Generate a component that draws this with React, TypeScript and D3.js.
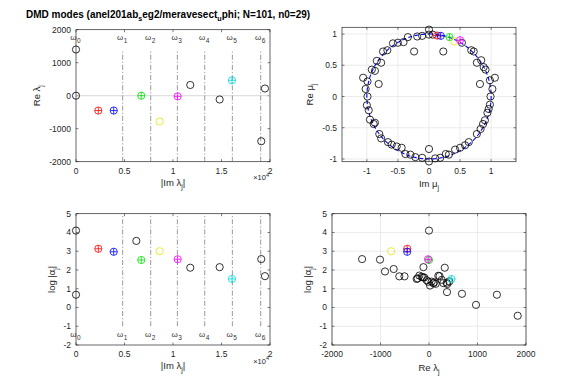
import React, { useEffect, useRef } from "react";
import * as d3 from "d3";

const W = 581;
const H = 388;
const FONT = "'Liberation Sans', Arial, Helvetica, sans-serif";
const AX = "#262626";

// title pieces: [text, shift] (1 = subscript)
const titleParts: [string, number][] = [
  ["DMD modes (anel201ab", 0], ["s", 1], ["eg2/meravesect", 0], ["u", 1], ["phi; N=101, n0=29)", 0],
];

// low-frequency modes: |Im lambda| (x1e4), Re lambda, log|alpha|
const modeImLam = [0, 0, 0.23, 0.389, 0.622, 0.673, 0.862, 1.048, 1.178, 1.481, 1.608, 1.91, 1.948];
const modeReLam = [1400, 0, -450, -450, -2600, 0, -780, -20, 325, -115, 465, -1380, 218];
const modeLogAlpha = [0.68, 4.1, 3.13, 2.97, 3.55, 2.53, 3.0, 2.57, 2.12, 2.15, 1.52, 2.58, 1.67];
const modeColor = ["#000", "#000", "#ff0000", "#0000ff", "#000", "#00e000", "#e6e600", "#ff00ff", "#000", "#000", "#00d8d8", "#000", "#000"];
const modeCross = [false, false, true, true, false, true, false, true, false, false, true, false, false];

// reference frequencies omega_k (x1e4)
const omegaFreq = [0, 0.481, 0.77, 1.045, 1.327, 1.612, 1.904];

// remaining modes (only in the Re lambda / log|alpha| panel)
const otherReLam = [-1010, -907, -728, -612, -505, -254, -233, -200, -151, -124, -97, -47, -14, 21, 55, 89, 103, 138, 192, 262, 295, 365, 377, 371, 419, 680, 969, 1829];
const otherLogAlpha = [2.55, 1.92, 2.05, 1.66, 1.66, 1.52, 1.55, 1.7, 1.64, 1.6, 1.6, 1.45, 1.37, 1.17, 1.38, 1.29, 1.33, 1.26, 1.69, 1.47, 1.3, 1.32, 1.25, 0.82, 1.39, 0.73, 0.14, -0.44];

// eigenvalues mu: Im, Re
const muIm = [
  0, 0, -0.11, -0.19, -0.34, -0.41, -0.5, -0.58, -0.24, -0.67, -0.74, -0.84, -0.77, -0.92, -0.87, -1.06, -0.99, -0.81, -1.02, -0.99,
  0.06, 0.23, 0.53, 0.68, 0.72, 0.84, 0.77, 0.88, 0.91, 1.06, 0.98, 0.82, 1.02, 0.99,
  -1.0, -0.97, -0.95, -0.89, -0.87, -0.8, -0.77, -0.66, -0.6, -0.52, -0.44, -0.38, -0.3, -0.22, -0.11, 0, 0,
  0.1, 0.18, 0.27, 0.32, 0.42, 0.5, 0.58, 0.64, 0.77, 0.83, 0.87, 0.9, 0.94, 0.96, 0.98,
];
const muRe = [
  1.07, 0.99, 0.97, 0.96, 0.95, 0.87, 0.86, 0.85, 0.72, 0.74, 0.72, 0.57, 0.54, 0.43, 0.41, 0.3, 0.24, 0.2, 0.12, 0.0,
  0.99, 0.72, 0.86, 0.74, 0.72, 0.58, 0.54, 0.47, 0.43, 0.3, 0.26, 0.2, 0.12, 0.0,
  -0.14, -0.22, -0.37, -0.44, -0.42, -0.6, -0.67, -0.73, -0.77, -0.8, -0.82, -0.92, -0.93, -0.97, -0.98, -1.04, -0.84,
  -0.99, -0.98, -0.92, -0.93, -0.85, -0.82, -0.78, -0.73, -0.6, -0.52, -0.44, -0.38, -0.26, -0.2, -0.13,
];
const muColIm = [0.13, 0.19, 0.33, 0.41, 0.5];
const muColRe = [0.975, 0.97, 0.95, 0.88, 0.9];
const muColor = ["#ff0000", "#0000ff", "#00e000", "#e6e600", "#ff00ff"];
const muCross = [true, true, true, false, true];

const freqTicks = [0, 0.5, 1, 1.5, 2];
const reLamTicks = [-2000, -1000, 0, 1000, 2000];
const logTicks = [-2, -1, 0, 1, 2, 3, 4, 5];
const muTicks = [-1, -0.5, 0, 0.5, 1];

function rich(t: any, parts: [string, number][], fs: number) {
  let prev = 0;
  parts.forEach(([s, sh]) => {
    t.append("tspan")
      .attr("font-size", sh ? fs * 0.72 : fs)
      .attr("dy", (sh - prev) * fs * 0.32)
      .text(s);
    prev = sh;
  });
  return t;
}

function frame(g: any, x: any, y: any, xt: number[], yt: number[], grid: boolean) {
  const [l, r] = x.range();
  const [b, t] = y.range();
  if (grid) {
    xt.forEach((v) => g.append("line").attr("x1", x(v)).attr("x2", x(v)).attr("y1", b).attr("y2", t).attr("stroke", "#e3e3e3").attr("stroke-width", 0.7));
    yt.forEach((v) => g.append("line").attr("x1", l).attr("x2", r).attr("y1", y(v)).attr("y2", y(v)).attr("stroke", "#e3e3e3").attr("stroke-width", 0.7));
  }
  g.append("rect").attr("x", l).attr("y", t).attr("width", r - l).attr("height", b - t)
    .attr("fill", "none").attr("stroke", AX).attr("stroke-width", 0.7);
  const tl = 2.5;
  xt.forEach((v) => {
    g.append("path").attr("d", `M${x(v)},${b}v${-tl}M${x(v)},${t}v${tl}`).attr("stroke", AX).attr("stroke-width", 0.6);
    g.append("text").attr("x", x(v)).attr("y", b + 12).attr("text-anchor", "middle")
      .attr("font-size", 8.5).attr("fill", AX).text(String(v));
  });
  yt.forEach((v) => {
    g.append("path").attr("d", `M${l},${y(v)}h${tl}M${r},${y(v)}h${-tl}`).attr("stroke", AX).attr("stroke-width", 0.6);
    g.append("text").attr("x", l - 5).attr("y", y(v) + 3).attr("text-anchor", "end")
      .attr("font-size", 8.5).attr("fill", AX).text(String(v));
  });
}

function marker(g: any, cx: number, cy: number, color: string, cross: boolean) {
  g.append("circle").attr("cx", cx).attr("cy", cy).attr("r", 3.6)
    .attr("fill", "none").attr("stroke", color).attr("stroke-width", 0.8);
  if (cross) {
    g.append("path").attr("d", `M${cx - 3.6},${cy}H${cx + 3.6}M${cx},${cy - 3.6}V${cy + 3.6}`)
      .attr("stroke", color).attr("stroke-width", 0.8);
  }
}

function xLabel(g: any, x: number, y: number, parts: [string, number][]) {
  rich(g.append("text").attr("x", x).attr("y", y).attr("text-anchor", "middle").attr("fill", AX), parts, 9.5);
}
function yLabel(g: any, x: number, y: number, parts: [string, number][]) {
  rich(g.append("text").attr("transform", `translate(${x},${y}) rotate(-90)`).attr("text-anchor", "middle").attr("fill", AX), parts, 9.5);
}
function x10(g: any, x: number, y: number) {
  const t = g.append("text").attr("x", x).attr("y", y).attr("text-anchor", "end").attr("fill", AX);
  t.append("tspan").attr("font-size", 7.5).text("\u00d710");
  t.append("tspan").attr("font-size", 5.5).attr("dy", -3.5).text("4");
}

function omegaLines(g: any, x: any, y: any, lo: number, hi: number, labelY: number) {
  omegaFreq.forEach((w, k) => {
    if (k > 0) {
      g.append("line").attr("x1", x(w)).attr("x2", x(w)).attr("y1", y(lo)).attr("y2", y(hi))
        .attr("stroke", "#555").attr("stroke-width", 0.6).attr("stroke-dasharray", "5,2,1.2,2");
    }
    g.append("text").attr("x", x(w) + 0.5).attr("y", y(labelY)).attr("text-anchor", "end")
      .attr("font-size", 8).attr("fill", "#333").text("\u03c9");
    g.append("text").attr("x", x(w) + 1).attr("y", y(labelY) + 3.5)
      .attr("font-size", 6.5).attr("fill", "#333").text(String(k));
  });
}

export default function App() {
  const ref = useRef<SVGSVGElement>(null);

  useEffect(() => {
    const svg = d3.select(ref.current);
    svg.selectAll("*").remove();
    svg.attr("font-family", FONT);

    rich(svg.append("text").attr("x", 26).attr("y", 17.5).attr("font-weight", "bold").attr("fill", "#000"), titleParts, 10);

    // top-left: |Im lambda| vs Re lambda
    const tl = svg.append("g");
    const x1 = d3.scaleLinear().domain([0, 2]).range([76, 270]);
    const y1 = d3.scaleLinear().domain([-2000, 2000]).range([161.7, 29.7]);
    frame(tl, x1, y1, freqTicks, reLamTicks, false);
    tl.append("line").attr("x1", x1(0)).attr("x2", x1(2)).attr("y1", y1(0)).attr("y2", y1(0))
      .attr("stroke", "#c8c8c8").attr("stroke-width", 0.7);
    omegaLines(tl, x1, y1, -2000, 1400, 1700);
    modeImLam.forEach((v, i) => {
      if (modeReLam[i] < -2000 || modeReLam[i] > 2000) return;
      marker(tl, x1(v), y1(modeReLam[i]), modeColor[i], modeCross[i]);
    });
    xLabel(tl, 173, 185.5, [["|Im \u03bb", 0], ["j", 1], ["|", 0]]);
    yLabel(tl, 39.5, 95.7, [["Re \u03bb", 0], ["j", 1]]);
    x10(tl, 269, 180);

    // top-right: mu in the complex plane
    const tr = svg.append("g");
    const x2 = d3.scaleLinear().domain([-1.4, 1.4]).range([342, 516]);
    const y2 = d3.scaleLinear().domain([-1.043, 1.107]).range([161.7, 27.3]);
    frame(tr, x2, y2, muTicks, muTicks, true);
    const circ = d3.line<number>().x((a) => x2(Math.sin(a))).y((a) => y2(Math.cos(a)));
    tr.append("path").attr("d", circ(d3.range(0, 2 * Math.PI + 0.01, Math.PI / 90)))
      .attr("fill", "none").attr("stroke", "#0000ff").attr("stroke-width", 1.1).attr("stroke-dasharray", "4,2.5");
    muIm.forEach((v, i) => marker(tr, x2(v), y2(muRe[i]), "#000", false));
    muColIm.forEach((v, i) => marker(tr, x2(v), y2(muColRe[i]), muColor[i], muCross[i]));
    xLabel(tr, 429, 186.5, [["Im \u03bc", 0], ["j", 1]]);
    yLabel(tr, 312.5, 94.5, [["Re \u03bc", 0], ["j", 1]]);

    // bottom-left: |Im lambda| vs log|alpha|
    const bl = svg.append("g");
    const x3 = d3.scaleLinear().domain([0, 2]).range([76, 270]);
    const y3 = d3.scaleLinear().domain([-2, 5]).range([345, 213.7]);
    frame(bl, x3, y3, freqTicks, logTicks, false);
    omegaLines(bl, x3, y3, -1, 5, -1.55);
    modeImLam.forEach((v, i) => marker(bl, x3(v), y3(modeLogAlpha[i]), modeColor[i], modeCross[i]));
    xLabel(bl, 173, 368.5, [["|Im \u03bb", 0], ["j", 1], ["|", 0]]);
    yLabel(bl, 55, 279.3, [["log |\u03b1", 0], ["j", 1], ["|", 0]]);
    x10(bl, 269, 363.5);

    // bottom-right: Re lambda vs log|alpha|
    const br = svg.append("g");
    const x4 = d3.scaleLinear().domain([-2000, 2000]).range([332, 526]);
    const y4 = d3.scaleLinear().domain([-2, 5]).range([345, 213.7]);
    frame(br, x4, y4, reLamTicks, logTicks, true);
    otherReLam.forEach((v, i) => marker(br, x4(v), y4(otherLogAlpha[i]), "#000", false));
    modeReLam.forEach((v, i) => {
      if (v < -2000 || v > 2000) return;
      marker(br, x4(v), y4(modeLogAlpha[i]), modeColor[i], modeCross[i]);
    });
    xLabel(br, 429, 370.5, [["Re \u03bb", 0], ["j", 1]]);
    yLabel(br, 310.5, 279.3, [["log |\u03b1", 0], ["j", 1], ["|", 0]]);
  }, []);

  return (
    <div style={{ position: "absolute", left: 0, top: 0 }}>
      <svg ref={ref} width={W} height={H} style={{ display: "block", background: "#fff" }} />
    </div>
  );
}
